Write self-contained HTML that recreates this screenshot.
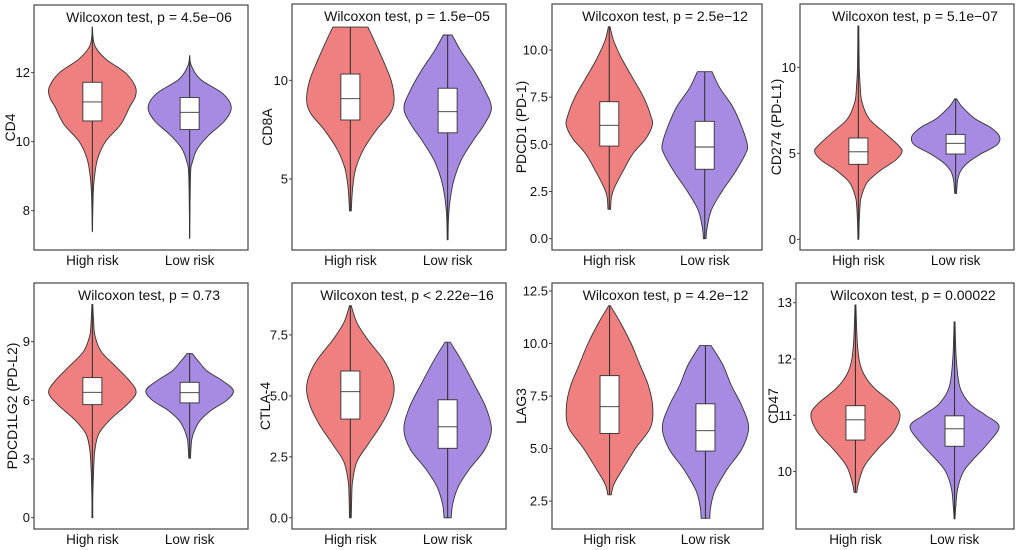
<!DOCTYPE html>
<html><head><meta charset="utf-8"><style>
body{margin:0;background:#fff;}
svg{display:block;font-family:"Liberation Sans",Arial,sans-serif;}
</style></head><body>
<svg id="c" width="1020" height="550" viewBox="0 0 1020 550"></svg>
<script>
const groups = ["High risk","Low risk"];
const genes = ["CD4","CD8A","PDCD1 (PD-1)","CD274 (PD-L1)","PDCD1LG2 (PD-L2)","CTLA-4","LAG3","CD47"];
const pvalues = ["Wilcoxon test, p = 4.5e\u221206","Wilcoxon test, p = 1.5e\u221205","Wilcoxon test, p = 2.5e\u221212","Wilcoxon test, p = 5.1e\u221207","Wilcoxon test, p = 0.73","Wilcoxon test, p < 2.22e\u221216","Wilcoxon test, p = 4.2e\u221212","Wilcoxon test, p = 0.00022"];
const domains = [[6.86,13.96],[1.4,13.87],[-0.6,12.44],[-0.62,13.68],[-0.58,12.0],[-0.46,9.63],[1.17,12.88],[8.98,13.35]];
const ticks = [["8","10","12"],["5","10"],["0.0","2.5","5.0","7.5","10.0"],["0","5","10"],["0","3","6","9"],["0.0","2.5","5.0","7.5"],["2.5","5.0","7.5","10.0","12.5"],["10","11","12","13"]];
// violin profiles: [value, relative half-width]
const highProfiles = [
 [[7.4,0],[8.5,0.02],[9,0.05],[9.5,0.12],[10,0.3],[10.5,0.65],[11,0.85],[11.3,0.98],[11.6,0.98],[12,0.75],[12.4,0.3],[12.8,0.05],[13.33,0]],
 [[3.38,0.02],[4.5,0.05],[5.5,0.12],[6.5,0.3],[7.5,0.6],[8.3,0.9],[9,1.0],[10,0.93],[11,0.75],[12,0.55],[12.7,0.4]],
 [[1.56,0.03],[2.2,0.05],[2.7,0.12],[3.5,0.3],[4.5,0.55],[5.3,0.85],[6,1.0],[6.5,0.97],[7.5,0.8],[8.5,0.55],[9.5,0.3],[10.5,0.1],[11.23,0.02]],
 [[0,0.01],[1,0.02],[2,0.04],[2.5,0.07],[3.3,0.2],[4,0.5],[4.6,0.85],[5.1,1.0],[5.5,0.9],[6.2,0.6],[7,0.25],[8,0.08],[9,0.04],[10,0.02],[12.4,0.01]],
 [[0,0.01],[1,0.01],[2.5,0.03],[3.5,0.06],[4.3,0.15],[5,0.4],[5.8,0.8],[6.4,1.0],[7,0.85],[7.8,0.5],[8.5,0.2],[9.3,0.06],[10,0.03],[10.9,0.01]],
 [[0,0.02],[0.8,0.03],[1.5,0.05],[2.3,0.15],[3,0.4],[3.8,0.7],[4.5,0.9],[5.2,1.0],[5.8,0.95],[6.5,0.75],[7.3,0.4],[8,0.15],[8.7,0.02]],
 [[2.8,0.04],[3.3,0.1],[4,0.3],[5,0.6],[6,0.95],[7,1.0],[8,0.9],[9,0.7],[10,0.5],[11,0.25],[11.8,0.02]],
 [[9.63,0.03],[9.8,0.07],[10.1,0.2],[10.4,0.5],[10.7,0.85],[11,1.0],[11.2,0.85],[11.5,0.4],[11.8,0.15],[12.2,0.05],[12.96,0.01]]
];
const lowProfiles = [
 [[7.2,0],[9,0.02],[9.4,0.06],[9.8,0.18],[10.2,0.45],[10.6,0.8],[11.0,0.95],[11.4,0.75],[11.8,0.25],[12.2,0.04],[12.5,0]],
 [[1.92,0.01],[3,0.02],[4,0.06],[5,0.15],[6,0.32],[7,0.6],[7.8,0.85],[8.6,1.0],[9.5,0.85],[10.5,0.6],[11.5,0.3],[12.3,0.1]],
 [[0,0.03],[0.5,0.05],[1.5,0.15],[2.5,0.4],[3.5,0.7],[4.5,0.95],[5,0.99],[6,0.85],[7,0.65],[8,0.35],[8.85,0.17]],
 [[2.67,0.02],[3,0.03],[3.5,0.05],[4,0.12],[4.5,0.3],[5,0.6],[5.5,0.95],[6,1.0],[6.5,0.8],[7,0.45],[7.7,0.15],[8.17,0.02]],
 [[3.04,0.02],[3.5,0.03],[4,0.05],[4.5,0.12],[5,0.25],[5.5,0.5],[6,0.85],[6.5,1.0],[7,0.75],[7.5,0.4],[8,0.2],[8.39,0.06]],
 [[0,0.08],[0.6,0.12],[1.3,0.25],[2,0.5],[2.8,0.85],[3.6,1.0],[4.5,0.88],[5.5,0.6],[6.5,0.3],[7.2,0.06]],
 [[1.68,0.1],[2.2,0.12],[3,0.22],[4,0.5],[5,0.85],[6,1.0],[7,0.85],[8,0.6],[9,0.4],[9.9,0.13]],
 [[9.16,0.01],[9.4,0.03],[9.7,0.07],[10,0.2],[10.2,0.4],[10.5,0.75],[10.8,1.0],[11,0.7],[11.2,0.35],[11.5,0.12],[12,0.04],[12.66,0.01]]
];
// boxes: [whiskerLow, q1, median, q3, whiskerHigh]
const highBoxes = [[7.4,10.6,11.15,11.72,13.33],[3.38,7.99,9.07,10.32,12.7],[1.56,4.91,6.01,7.26,11.23],[0,4.36,5.09,5.89,12.4],[0,5.78,6.41,7.16,10.9],[0,4.05,5.17,6.02,8.7],[2.8,5.72,6.99,8.47,11.8],[9.63,10.56,10.92,11.17,12.96]];
const lowBoxes = [[7.2,10.35,10.85,11.28,12.5],[1.92,7.34,8.41,9.6,12.3],[0,3.68,4.86,6.22,8.85],[2.67,4.96,5.58,6.1,8.17],[3.04,5.87,6.39,6.92,8.39],[0,2.85,3.73,4.84,7.2],[1.68,4.88,5.85,7.13,9.9],[9.16,10.45,10.76,10.99,12.66]];
// layout
const frames = [[34,5,248,250],[292,4,506,250],[552,4,762,250],[800,4,1014,250],[34,283,248,529],[292,283,506,529],[552,283,763,529],[796,283,1014,529]];
const titleOff = [24,25,31,24,22,27,31,23];
const NS="http://www.w3.org/2000/svg";
const svg=document.getElementById('c');
function mk(t,a,p){const e=document.createElementNS(NS,t);for(const k in a)e.setAttribute(k,a[k]);(p||svg).appendChild(e);return e;}
function spline(pts){
  let d="M"+pts[0][0]+","+pts[0][1];
  for(let i=0;i<pts.length-1;i++){
    const p0=pts[Math.max(0,i-1)],p1=pts[i],p2=pts[i+1],p3=pts[Math.min(pts.length-1,i+2)];
    const c1=[p1[0]+(p2[0]-p0[0])/6,p1[1]+(p2[1]-p0[1])/6];
    const c2=[p2[0]-(p3[0]-p1[0])/6,p2[1]-(p3[1]-p1[1])/6];
    d+=` C${c1[0].toFixed(1)},${c1[1].toFixed(1)} ${c2[0].toFixed(1)},${c2[1].toFixed(1)} ${p2[0].toFixed(1)},${p2[1].toFixed(1)}`;
  }
  return d;
}
genes.forEach((g,i)=>{
  const [x0,y0,x1,y1]=frames[i];
  const [dmin,dmax]=domains[i];
  const W=x1-x0;
  const ys=v=>y1-(v-dmin)/(dmax-dmin)*(y1-y0);
  const xs=k=>x0+(0.6+k)/2.2*W;
  const hw=0.45/2.2*W;
  const pg=mk('g',{});
  
  
  const fr=mk('rect',{x:x0,y:y0,width:W,height:y1-y0,fill:'none',stroke:'#444','stroke-width':1.2},pg);
  
  
  [highProfiles[i],lowProfiles[i]].forEach((prof,k)=>{
    const cx=xs(k);
    const right=prof.map(p=>[cx+p[1]*hw,ys(p[0])]);
    const left=prof.slice().reverse().map(p=>[cx-p[1]*hw,ys(p[0])]);
    let d=spline(right)+" L"+left[0][0].toFixed(1)+","+left[0][1].toFixed(1)+spline(left).replace(/^M[^C]*/,"")+" Z";
    const v=mk('path',{d:d,fill:k?'#A78BE2':'#F08080',stroke:'#333','stroke-width':0.9},pg);
    
    
    const b=(k?lowBoxes:highBoxes)[i];
    const wl=mk('line',{x1:cx,x2:cx,y1:ys(b[0]),y2:ys(b[4]),stroke:'#333','stroke-width':1.1},pg);
    
    
    const bw=9.5;
    const bx=mk('rect',{x:cx-bw,y:ys(b[3]),width:2*bw,height:ys(b[1])-ys(b[3]),fill:'#fff',stroke:'#333','stroke-width':0.9},pg);
    
    
    const md=mk('line',{x1:cx-bw,x2:cx+bw,y1:ys(b[2]),y2:ys(b[2]),stroke:'#333','stroke-width':0.9},pg);
    
    
    const xl=mk('text',{x:cx,y:y1+15,'text-anchor':'middle','font-size':13.5,fill:'#111'},pg);
    xl.textContent=groups[k];
    
    
  });
  ticks[i].forEach(t=>{
    const y=ys(parseFloat(t));
    mk('line',{x1:x0-3,x2:x0,y1:y,y2:y,stroke:'#444'},pg);
    const tl=mk('text',{x:x0-4,y:y+4.5,'text-anchor':'end','font-size':13,fill:'#111'},pg);
    tl.textContent=t;
    
    
  });
  const tx=x0-titleOff[i], ty=(y0+y1)/2;
  const at=mk('text',{x:tx,y:ty,'text-anchor':'middle','font-size':14,fill:'#111',transform:`rotate(-90 ${tx} ${ty})`,dy:5},pg);
  at.textContent=g;
  
  
  const tt=mk('text',{x:(x0+x1)/2+8,y:y0+17,'text-anchor':'middle','font-size':14,fill:'#111'},pg);
  tt.textContent=pvalues[i];
  
  
});
</script>
</body></html>
